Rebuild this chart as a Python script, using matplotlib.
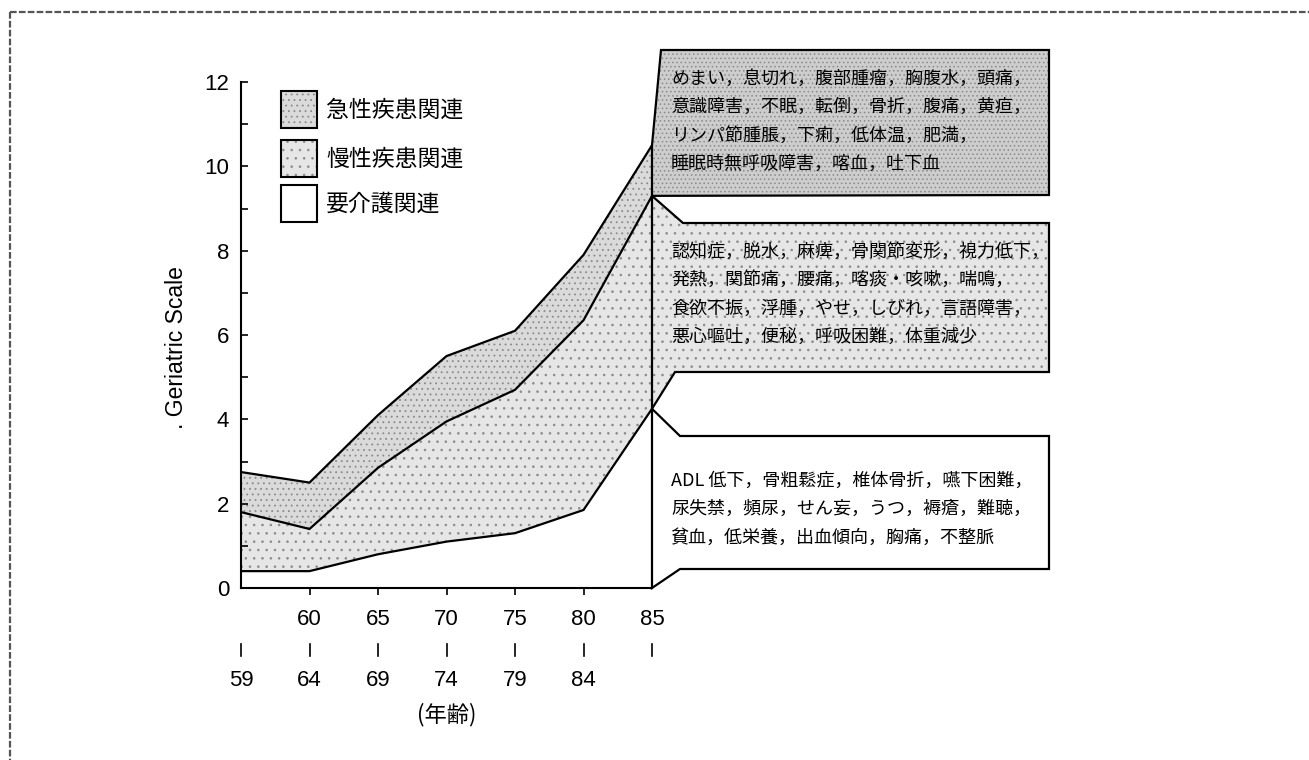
import matplotlib.pyplot as plt
from matplotlib.patches import Polygon, Rectangle

plt.rcParams['font.family'] = ['Liberation Sans', 'Noto Sans CJK JP']
plt.rcParams['hatch.linewidth'] = 0.6

W, H = 1309, 760

# age groups (x positions 0..6)
x_pos = [0, 1, 2, 3, 4, 5, 6]
upper_ages = ['', '60', '65', '70', '75', '80', '85']
lower_ages = ['59', '64', '69', '74', '79', '84', '']

# cumulative Geriatric Scale (upper boundary of each band)
care_top = [0.4, 0.4, 0.8, 1.1, 1.3, 1.85, 4.25]       # 要介護関連
chronic_top = [1.8, 1.4, 2.85, 3.95, 4.7, 6.35, 9.3]   # 慢性疾患関連
acute_top = [2.75, 2.5, 4.1, 5.5, 6.1, 7.9, 10.5]      # 急性疾患関連

categories = ['急性疾患関連', '慢性疾患関連', '要介護関連']

acute_items = ['めまい，息切れ，腹部腫瘤，胸腹水，頭痛，',
               '意識障害，不眠，転倒，骨折，腹痛，黄疸，',
               'リンパ節腫脹，下痢，低体温，肥満，',
               '睡眠時無呼吸障害，喀血，吐下血']
chronic_items = ['認知症，脱水，麻痺，骨関節変形，視力低下，',
                 '発熱，関節痛，腰痛，喀痰・咳嗽，喘鳴，',
                 '食欲不振，浮腫，やせ，しびれ，言語障害，',
                 '悪心嘔吐，便秘，呼吸困難，体重減少']
care_items = ['ADL 低下，骨粗鬆症，椎体骨折，嚥下困難，',
              '尿失禁，頻尿，せん妄，うつ，褥瘡，難聴，',
              '貧血，低栄養，出血傾向，胸痛，不整脈']

acute_fill = '#dadada'
chronic_fill = '#e6e6e6'
dot_color = '#8a8a8a'

fig = plt.figure(figsize=(W / 100, H / 100), dpi=100)
ax = fig.add_axes([241 / W, (H - 588) / H, 411 / W, 506 / H])

# bands
ax.fill_between(x_pos, care_top, chronic_top, facecolor=chronic_fill,
                edgecolor=dot_color, hatch='..', linewidth=0)
ax.fill_between(x_pos, chronic_top, acute_top, facecolor=acute_fill,
                edgecolor=dot_color, hatch='...', linewidth=0)
for s in (care_top, chronic_top, acute_top):
    ax.plot(x_pos, s, color='black', lw=1.6, solid_joinstyle='miter')

ax.set_xlim(0, 6)
ax.set_ylim(0, 12)
for side in ('top', 'right'):
    ax.spines[side].set_visible(False)
for side in ('left', 'bottom'):
    ax.spines[side].set_linewidth(1.5)

ax.set_yticks(range(0, 13))
ax.set_yticklabels([str(v) if v % 2 == 0 else '' for v in range(0, 13)])
ax.tick_params(axis='y', direction='in', length=5, width=1.2, labelsize=16, pad=8.5)
ax.set_xticks([1, 2, 3, 4, 5])
ax.set_xticklabels([])
ax.tick_params(axis='x', direction='out', length=5, width=1.2)

ax.set_ylabel('. Geriatric Scale', fontsize=16.5)
ax.yaxis.set_label_coords(-0.13, 0.476)

# age labels under the axis
xt = ax.get_xaxis_transform()
for x, up, lo in zip(x_pos, upper_ages, lower_ages):
    if up:
        ax.text(x, -0.063, up, transform=xt, ha='center', va='center', fontsize=16)
    if lo:
        ax.text(x, -0.182, lo, transform=xt, ha='center', va='center', fontsize=16)
    ax.plot([x, x], [-0.111, -0.134], transform=xt, color='black', lw=1.2, clip_on=False)
ax.text(3, -0.251, '(年齢)', transform=xt, ha='center', va='center', fontsize=16,
        family=['Noto Sans CJK JP'])

# overlay in pixel coordinates (top-down) for legend and call-out boxes
ov = fig.add_axes([0, 0, 1, 1])
ov.set_xlim(0, W)
ov.set_ylim(H, 0)
ov.axis('off')


def to_px(x, y):
    dx, dy = ax.transData.transform((x, y))
    return dx, H - dy


p_top = to_px(6, acute_top[-1])
p_mid = to_px(6, chronic_top[-1])
p_bot = to_px(6, care_top[-1])
p_zero = to_px(6, 0)

box_acute = [p_top, (661, 50), (1049, 50), (1049, 195), p_mid]
box_chronic = [p_mid, (683, 223), (1049, 223), (1049, 372), (675, 372), p_bot]
box_care = [p_bot, (680, 436), (1049, 436), (1049, 569), (680, 569), p_zero]

ov.add_patch(Polygon(box_acute, closed=True, facecolor='#cdcdcd', edgecolor=dot_color,
                     hatch='....', linewidth=0))
ov.add_patch(Polygon(box_chronic, closed=True, facecolor=chronic_fill, edgecolor=dot_color,
                     hatch='..', linewidth=0))
for poly in (box_acute, box_chronic, box_care):
    ov.add_patch(Polygon(poly, closed=True, facecolor='none', edgecolor='black',
                         linewidth=1.6, joinstyle='miter'))

cjk = ['Noto Sans CJK JP']
for items, y0 in ((acute_items, 79), (chronic_items, 252), (care_items, 481)):
    for i, line in enumerate(items):
        ov.text(671, y0 + i * 28.3, line, ha='left', va='center', fontsize=13.0, family=cjk)

# legend
legend_fills = [(acute_fill, '...'), (chronic_fill, '..'), ('white', None)]
legend_y = [91, 140, 185]
for (fc, hatch), y, name in zip(legend_fills, legend_y, categories):
    if hatch:
        ov.add_patch(Rectangle((281, y), 36, 37, facecolor=fc, edgecolor=dot_color,
                               hatch=hatch, linewidth=0))
    ov.add_patch(Rectangle((281, y), 36, 37, facecolor='none', edgecolor='black', linewidth=1.5))
    ov.text(326, y + 19, name, ha='left', va='center', fontsize=16.5, family=cjk)

# scanned page frame
ov.plot([10, W], [12, 12], color='#555555', lw=1.6, ls=(0, (3, 1)))
ov.plot([10, 10], [12, H], color='#555555', lw=1.6, ls=(0, (3, 1)))

fig.savefig('out.png', dpi=100)
